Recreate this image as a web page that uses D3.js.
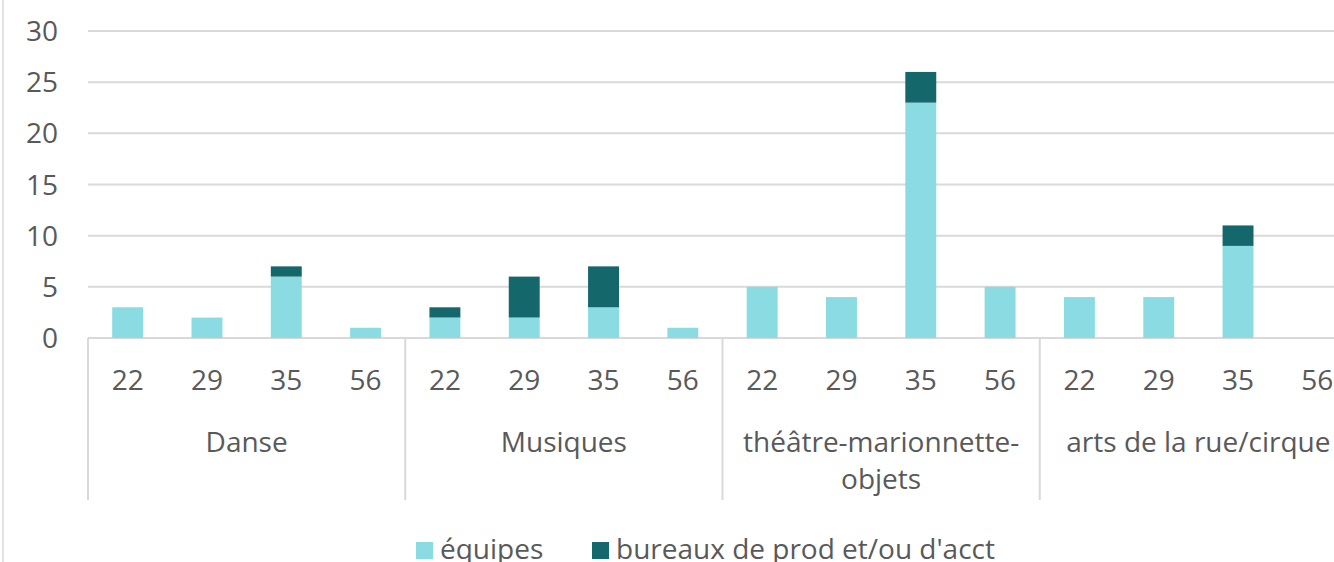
<!DOCTYPE html>
<head>
  <title>Stacked bars</title>
  <meta charset="utf-8">
  <style>
    body { margin: 0; background: #fff; }
    text { font-family: "Open Sans", sans-serif; fill: #595959; }
  </style>
</head>
<body>
  <script src="https://cdn.jsdelivr.net/npm/d3@7"></script>
  <script>
    // data
    var groups = ["Danse", "Musiques", "théâtre-marionnette-objets", "arts de la rue/cirque"];
    var ages = ["22", "29", "35", "56"];
    var equipes = [3, 2, 6, 1,  2, 2, 3, 1,  5, 4, 23, 5,  4, 4, 9, 0];
    var bureaux = [0, 0, 1, 0,  1, 4, 4, 0,  0, 0, 3, 0,  0, 0, 2, 0];
    var seriesNames = ["équipes", "bureaux de prod et/ou d'acct"];
    var colors = ["#8adce2", "#14676b"];
    var yTicks = [0, 5, 10, 15, 20, 25, 30];

    let width = 1334, height = 562;
    let fontSize = "28px";
    let svg = d3.select("body").append("svg")
      .attr("width", width)
      .attr("height", height);

    // category keys: one per bar
    let keys = [];
    groups.forEach(function (g, gi) {
      ages.forEach(function (a, ai) { keys.push(gi + "|" + a); });
    });
    let rows = keys.map(function (k, i) {
      return { key: k, group: +k.split("|")[0], age: k.split("|")[1], s0: equipes[i], s1: bureaux[i] };
    });

    let xScale = d3.scaleBand().domain(keys).range([88, 1357]).padding(0);
    let yScale = d3.scaleLinear().domain([0, 30]).range([338, 31]);
    let barW = xScale.bandwidth() * 0.39;

    // outer border on the left
    svg.append("line")
      .attr("x1", 3).attr("x2", 3).attr("y1", 0).attr("y2", height)
      .attr("stroke", "#d9d9d9").attr("stroke-width", 1.5);

    // gridlines
    svg.append("g").attr("id", "grid")
      .selectAll("line").data(yTicks).enter().append("line")
      .attr("x1", 88).attr("x2", 1357)
      .attr("y1", d => yScale(d)).attr("y2", d => yScale(d))
      .attr("stroke", "#d9d9d9").attr("stroke-width", 2);

    // y labels
    svg.append("g").attr("id", "y-labels")
      .selectAll("text").data(yTicks).enter().append("text")
      .attr("x", 58).attr("y", d => yScale(d) + 10)
      .attr("text-anchor", "end")
      .style("font-size", fontSize)
      .text(d => d);

    // stacked bars
    let stack = d3.stack().keys(["s0", "s1"])(rows);
    svg.append("g").attr("id", "bars")
      .selectAll("g").data(stack).enter().append("g")
      .attr("fill", (d, i) => colors[i])
      .selectAll("rect").data(d => d).enter().append("rect")
      .attr("x", d => xScale(d.data.key) + (xScale.bandwidth() - barW) / 2)
      .attr("y", d => yScale(d[1]))
      .attr("width", barW)
      .attr("height", d => yScale(d[0]) - yScale(d[1]));

    // category labels
    svg.append("g").attr("id", "x-labels")
      .selectAll("text").data(rows).enter().append("text")
      .attr("x", d => xScale(d.key) + xScale.bandwidth() / 2)
      .attr("y", 390)
      .attr("text-anchor", "middle")
      .style("font-size", fontSize)
      .text(d => d.age);

    // group separators
    let step = xScale.step() * ages.length;
    svg.append("g").attr("id", "separators")
      .selectAll("line").data(d3.range(groups.length + 1)).enter().append("line")
      .attr("x1", i => 88 + i * step).attr("x2", i => 88 + i * step)
      .attr("y1", 338).attr("y2", 500)
      .attr("stroke", "#d9d9d9").attr("stroke-width", 2);

    // group labels (théâtre wraps on two lines)
    let groupLines = [["Danse"], ["Musiques"], ["théâtre-marionnette-", "objets"], ["arts de la rue/cirque"]];
    let gl = svg.append("g").attr("id", "group-labels")
      .selectAll("text").data(groupLines).enter().append("text")
      .attr("x", (d, i) => 88 + (i + 0.5) * step)
      .attr("y", 452)
      .attr("text-anchor", "middle")
      .style("font-size", fontSize);
    gl.selectAll("tspan").data(d => d).enter().append("tspan")
      .attr("x", function () { return d3.select(this.parentNode).attr("x"); })
      .attr("dy", (d, i) => i === 0 ? 0 : 37)
      .text(d => d);

    // legend
    let legendX = [416, 592];
    let legend = svg.append("g").attr("id", "legend");
    seriesNames.forEach(function (n, i) {
      legend.append("rect")
        .attr("x", legendX[i]).attr("y", 542)
        .attr("width", 17).attr("height", 17)
        .attr("fill", colors[i]);
      legend.append("text")
        .attr("x", legendX[i] + 24).attr("y", 559)
        .style("font-size", fontSize)
        .text(n);
    });
  </script>
</body>
